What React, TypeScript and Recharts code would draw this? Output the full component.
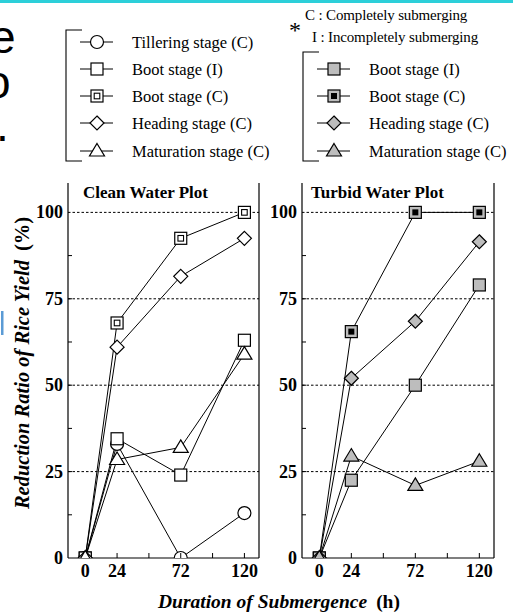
import React from 'react';
import { LineChart, Line, XAxis, YAxis, ReferenceLine } from 'recharts';

// submergence duration (h) and reduction ratio of rice yield (%)
const hours = [0, 24, 72, 120];
const cleanTillering = [0, 33, 0, 13];
const cleanBootI = [0, 34.5, 24, 63];
const cleanBootC = [0, 68, 92.5, 100];
const cleanHeading = [0, 61, 81.5, 92.5];
const cleanMaturation = [0, 28.5, 32, 59];
const turbidBootI = [0, 22.5, 50, 79];
const turbidBootC = [0, 65.5, 100, 100];
const turbidHeading = [0, 52, 68.5, 91.5];
const turbidMaturation = [0, 29.5, 21, 28];

const xTicks = [0, 24, 48, 72, 96, 120];
const xLabels = [0, 24, 72, 120];
const yTicks = [0, 12.5, 25, 37.5, 50, 62.5, 75, 87.5, 100];
const yLabels = [0, 25, 50, 75, 100];
const gridLines = [25, 50, 75, 100];

const GRAY = '#bdbdbd';
const FONT = '"Liberation Serif", "Times New Roman", serif';

interface Series {
  key: string;
  name: string;
  shape: string;
  fill: string;
}

const cleanSeries: Series[] = [
  { key: 'tillering', name: 'Tillering stage (C)', shape: 'circle', fill: '#fff' },
  { key: 'bootI', name: 'Boot stage (I)', shape: 'square', fill: '#fff' },
  { key: 'bootC', name: 'Boot stage (C)', shape: 'squareInner', fill: '#fff' },
  { key: 'heading', name: 'Heading stage (C)', shape: 'diamond', fill: '#fff' },
  { key: 'maturation', name: 'Maturation stage (C)', shape: 'triangle', fill: '#fff' },
];

const turbidSeries: Series[] = [
  { key: 'bootI', name: 'Boot stage (I)', shape: 'square', fill: GRAY },
  { key: 'bootC', name: 'Boot stage (C)', shape: 'squareBlack', fill: GRAY },
  { key: 'heading', name: 'Heading stage (C)', shape: 'diamond', fill: GRAY },
  { key: 'maturation', name: 'Maturation stage (C)', shape: 'triangle', fill: GRAY },
];

const cleanData = hours.map((h, i) => ({
  h,
  tillering: cleanTillering[i],
  bootI: cleanBootI[i],
  bootC: cleanBootC[i],
  heading: cleanHeading[i],
  maturation: cleanMaturation[i],
}));

const turbidData = hours.map((h, i) => ({
  h,
  bootI: turbidBootI[i],
  bootC: turbidBootC[i],
  heading: turbidHeading[i],
  maturation: turbidMaturation[i],
}));

const Marker = ({ cx, cy, shape, fill }: { cx: number; cy: number; shape: string; fill: string }) => {
  const st = { stroke: '#000', strokeWidth: 1.2, fill };
  if (shape === 'circle') return <circle cx={cx} cy={cy} r={6.5} {...st} />;
  if (shape === 'square') return <rect x={cx - 6} y={cy - 6} width={12} height={12} {...st} />;
  if (shape === 'squareInner')
    return (
      <g>
        <rect x={cx - 6} y={cy - 6} width={12} height={12} {...st} />
        <rect x={cx - 2.8} y={cy - 2.8} width={5.6} height={5.6} stroke="#000" strokeWidth={1.1} fill="#fff" />
      </g>
    );
  if (shape === 'squareBlack')
    return (
      <g>
        <rect x={cx - 6} y={cy - 6} width={12} height={12} {...st} />
        <rect x={cx - 3} y={cy - 3} width={6} height={6} fill="#000" />
      </g>
    );
  if (shape === 'diamond')
    return <polygon points={`${cx},${cy - 7} ${cx + 7},${cy} ${cx},${cy + 7} ${cx - 7},${cy}`} {...st} />;
  // triangle
  return <polygon points={`${cx},${cy - 7.5} ${cx + 7.5},${cy + 5} ${cx - 7.5},${cy + 5}`} {...st} />;
};

const LeftTick = (props: any) => {
  const { x, y, payload } = props;
  const v = payload.value;
  return (
    <g>
      {v > 0 && v < 100 && <line x1={x} x2={x + 4} y1={y} y2={y} stroke="#000" />}
      {yLabels.includes(v) && (
        <text x={x - 5} y={y + 6} textAnchor="end" fontFamily={FONT} fontWeight="bold" fontSize={18} fill="#000">
          {v}
        </text>
      )}
    </g>
  );
};

const RightTick = (props: any) => {
  const { x, y, payload } = props;
  const v = payload.value;
  if (v <= 0 || v >= 100) return <g />;
  return <line x1={x} x2={x - 4} y1={y} y2={y} stroke="#000" />;
};

const BottomTick = (props: any) => {
  const { x, y, payload } = props;
  const v = payload.value;
  return (
    <g>
      {v > 0 && <line x1={x} x2={x} y1={y} y2={y - 5} stroke="#000" />}
      {xLabels.includes(v) && (
        <text x={x} y={y + 19} textAnchor="middle" fontFamily={FONT} fontWeight="bold" fontSize={18} fill="#000">
          {v}
        </text>
      )}
    </g>
  );
};

const Panel = ({ data, series, title, left, marginLeft }: any) => (
  <div style={{ position: 'absolute', left, top: 170 }}>
    <LineChart width={left === 0 ? 262 : 247} height={413} data={data} margin={{ top: 13, right: 2, left: marginLeft, bottom: 0 }}>
      <XAxis
        dataKey="h"
        type="number"
        domain={[-13, 131]}
        ticks={xTicks}
        allowDataOverflow
        interval={0}
        tickSize={0}
        tickMargin={0}
        tick={<BottomTick />}
        height={25}
        axisLine={{ stroke: '#000', strokeWidth: 1.2 }}
      />
      <XAxis xAxisId="top" orientation="top" dataKey="h" type="number" domain={[-13, 131]} height={0} tick={false} tickLine={false} axisLine={{ stroke: '#000', strokeWidth: 1.2 }} />
      <YAxis
        type="number"
        domain={[0, 108.5]}
        ticks={yTicks}
        allowDataOverflow
        interval={0}
        width={40}
        tickSize={0}
        tickMargin={0}
        tick={<LeftTick />}
        axisLine={{ stroke: '#000', strokeWidth: 1.2 }}
      />
      <YAxis
        yAxisId="right"
        orientation="right"
        type="number"
        domain={[0, 108.5]}
        ticks={yTicks}
        interval={0}
        width={1}
        tickSize={0}
        tickMargin={0}
        tick={<RightTick />}
        axisLine={{ stroke: '#000', strokeWidth: 1.2 }}
      />
      {gridLines.map((g) => (
        <ReferenceLine key={g} y={g} stroke="#000" strokeWidth={1} strokeDasharray="2.5 2" />
      ))}
      {series.map((s: Series) => (
        <Line
          key={s.key}
          type="linear"
          dataKey={s.key}
          name={s.name}
          stroke="#000"
          strokeWidth={1}
          isAnimationActive={false}
          dot={(p: any) => <Marker key={`${s.key}-${p.index}`} cx={p.cx} cy={p.cy} shape={s.shape} fill={s.fill} />}
        />
      ))}
    </LineChart>
    <div
      style={{
        position: 'absolute',
        left: left === 0 ? 83 : 61,
        top: 13,
        fontFamily: FONT,
        fontWeight: 'bold',
        fontSize: 17,
        lineHeight: '20px',
        whiteSpace: 'nowrap',
      }}
    >
      {title}
    </div>
  </div>
);

const LegendGroup = ({ series, bracketX, top, rows }: { series: Series[]; bracketX: number; top: number; rows: number[] }) => {
  const lineX1 = bracketX + 14;
  const mx = lineX1 + 17;
  return (
    <g>
      <polyline points={`${bracketX + 16},${top} ${bracketX},${top} ${bracketX},161 ${bracketX + 16},161`} fill="none" stroke="#000" strokeWidth={1.1} />
      {series.map((s, i) => (
        <g key={s.key}>
          <line x1={lineX1} x2={lineX1 + 33} y1={rows[i]} y2={rows[i]} stroke="#000" strokeWidth={1} />
          <Marker cx={mx} cy={rows[i]} shape={s.shape} fill={s.fill} />
          <text x={bracketX + 66} y={rows[i] + 5.5} fontFamily={FONT} fontSize={16.5} fill="#000">
            {s.name}
          </text>
        </g>
      ))}
    </g>
  );
};

export default function App() {
  return (
    <div style={{ position: 'absolute', left: 0, top: 0, width: 513, height: 612, background: '#fff', overflow: 'hidden' }}>
      <Panel data={cleanData} series={cleanSeries} title="Clean Water Plot" left={0} marginLeft={28} />
      <Panel data={turbidData} series={turbidSeries} title="Turbid Water Plot" left={250} marginLeft={12} />
      <svg width={513} height={612} style={{ position: 'absolute', left: 0, top: 0, pointerEvents: 'none' }}>
        <rect x={0} y={0} width={513} height={3} fill="#2ccfd9" />
        <rect x={1} y={311} width={2.5} height={24} fill="#5b9bd5" />
        <text x={-10} y={53} fontFamily='"Liberation Sans", Arial, sans-serif' fontSize={46} fill="#000">e</text>
        <text x={-15} y={98} fontFamily='"Liberation Sans", Arial, sans-serif' fontSize={46} fill="#000">o</text>
        <text x={-4} y={141} fontFamily='"Liberation Sans", Arial, sans-serif' fontSize={46} fill="#000">.</text>

        <LegendGroup series={cleanSeries} bracketX={66} top={30} rows={[42, 69, 96, 123, 151]} />
        <LegendGroup series={turbidSeries} bracketX={303} top={52} rows={[69, 96, 123, 151]} />

        <text x={289} y={38} fontFamily={FONT} fontSize={24} fill="#000">*</text>
        <text x={305} y={20} fontFamily={FONT} fontSize={15} fill="#000" letterSpacing={-0.15}>
          C : Completely submerging
        </text>
        <text x={312} y={42} fontFamily={FONT} fontSize={15} fill="#000" letterSpacing={-0.15}>
          I : Incompletely submerging
        </text>

        <text
          transform="translate(29, 363) rotate(-90)"
          textAnchor="middle"
          fontFamily={FONT}
          fontWeight="bold"
          fontSize={20.5}
          fill="#000"
        >
          <tspan fontStyle="italic">Reduction Ratio of Rice Yield</tspan>
          <tspan dx={9}>(%)</tspan>
        </text>
        <text x={279} y={608} textAnchor="middle" fontFamily={FONT} fontWeight="bold" fontSize={19.5} fill="#000">
          <tspan fontStyle="italic">Duration of Submergence</tspan>
          <tspan dx={9}>(h)</tspan>
        </text>
      </svg>
    </div>
  );
}
